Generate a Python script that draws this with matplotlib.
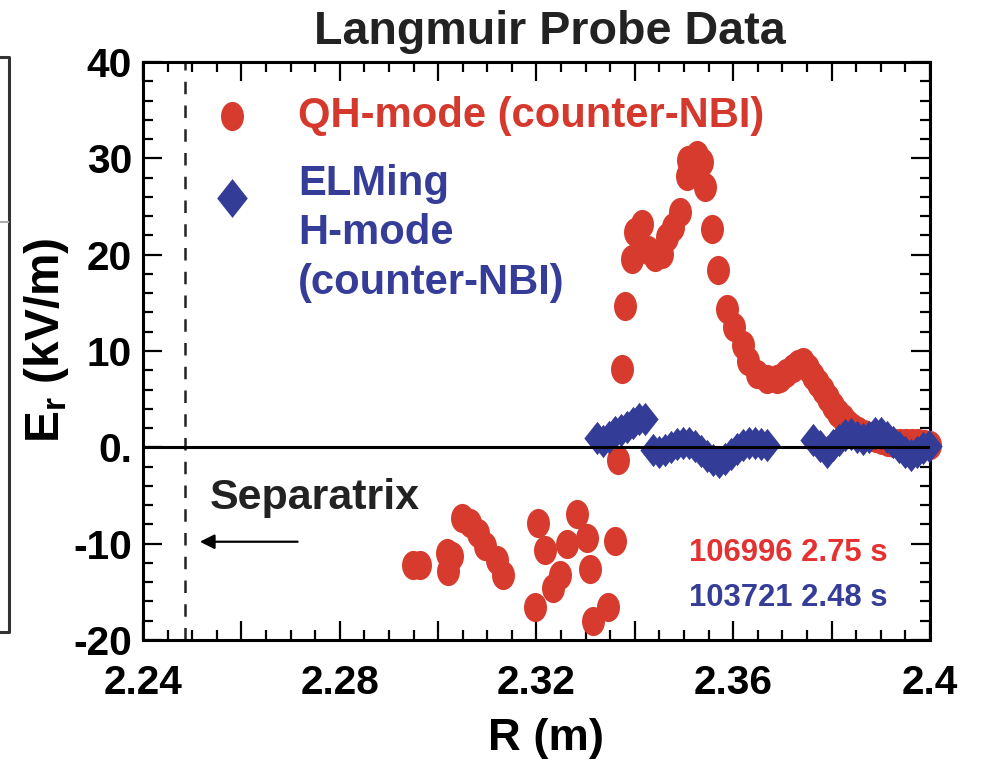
import matplotlib
matplotlib.use('Agg')
import matplotlib.pyplot as plt
from matplotlib import font_manager
from matplotlib.lines import Line2D
from matplotlib.markers import MarkerStyle
from matplotlib.path import Path
import numpy as np

# ── data ────────────────────────────────────────────────────────────────────
qh_r = [2.2949, 2.2963, 2.3018, 2.3028, 2.3020, 2.3049, 2.3065, 2.3081, 2.3095,
        2.3120, 2.3132, 2.3197, 2.3203, 2.3217, 2.3234, 2.3248, 2.3262, 2.3282,
        2.3303, 2.3309, 2.3315, 2.3345, 2.3360,
        2.3366, 2.3373, 2.3380, 2.3394, 2.3400, 2.3414, 2.3427, 2.3441, 2.3455,
        2.3465, 2.3478, 2.3492, 2.3505, 2.3509, 2.3526, 2.3536, 2.3543, 2.3556,
        2.3570, 2.3587, 2.3602, 2.3620, 2.3631, 2.3648, 2.3668, 2.3688,
        2.3695, 2.3707, 2.3721, 2.3732, 2.3742, 2.3752, 2.3762, 2.3772, 2.3782,
        2.3792, 2.3803, 2.3813, 2.3823, 2.3833, 2.3843, 2.3854, 2.3866, 2.3878,
        2.3890, 2.3902, 2.3915, 2.3927, 2.3939, 2.3951, 2.3963, 2.3976, 2.3988,
        2.4000]
qh_er = [-12.2, -12.2, -11.0, -11.3, -12.8, -7.3, -7.9, -8.9, -10.2,
         -11.7, -13.3, -16.6, -7.9, -10.7, -14.6, -13.3, -10.0, -6.9,
         -9.4, -12.6, -18.0, -16.6, -9.7,
         -1.35, 8.1, 14.7, 19.6, 22.4, 23.2, 20.5, 19.8, 20.1,
         21.8, 22.9, 24.4, 28.2, 29.8, 30.3, 29.6, 27.0, 22.7,
         18.4, 14.4, 12.5, 10.6, 9.0, 7.6, 7.1, 7.1,
         7.2, 7.7, 8.2, 8.7, 8.9, 8.2, 7.4, 6.7, 5.9,
         5.1, 4.3, 3.6, 3.0, 2.4, 2.0, 1.7, 1.4, 1.2,
         1.0, 0.8, 0.6, 0.5, 0.4, 0.5, 0.4, 0.4, 0.3,
         0.2]

elm_r = [2.3323, 2.3335, 2.3347, 2.3360, 2.3372, 2.3384, 2.3396, 2.3408, 2.3421,
         2.3437, 2.3449, 2.3461, 2.3473, 2.3486, 2.3498, 2.3510, 2.3522, 2.3534,
         2.3547, 2.3559, 2.3571, 2.3583, 2.3595, 2.3608, 2.3620, 2.3632, 2.3644,
         2.3656, 2.3669,
         2.3762, 2.3776, 2.3791, 2.3803, 2.3815, 2.3827, 2.3839, 2.3852, 2.3864,
         2.3876, 2.3888, 2.3900, 2.3913, 2.3925, 2.3937, 2.3949, 2.3961, 2.3974,
         2.3986, 2.3998]
elm_er = [1.0, 0.7, 1.1, 1.55, 1.75, 2.1, 2.5, 2.9, 2.9,
          -0.3, -0.5, -0.3, 0.0, 0.3, 0.4, 0.4, 0.1, -0.4,
          -0.9, -1.35, -1.5, -1.25, -0.7, -0.2, 0.2, 0.4, 0.4,
          0.3, 0.2,
          0.8, 0.1, -0.5, 0.2, 0.8, 1.25, 1.35, 1.1, 0.9,
          1.1, 1.45, 1.45, 1.1, 0.6, 0.0, -0.5, -0.8, -0.5,
          -0.1, 0.1]

x_ticks = [2.24, 2.26, 2.28, 2.30, 2.32, 2.34, 2.36, 2.38, 2.40]
x_labels = ['2.24', '', '2.28', '', '2.32', '', '2.36', '', '2.4']
y_ticks = [40, 30, 20, 10, 0, -10, -20]
y_labels = ['40', '30', '20', '10', '0.', '-10', '-20']
separatrix_r = 2.2485

# ── style ───────────────────────────────────────────────────────────────────
RED = '#d63b2d'
RED_TXT = '#d5392d'
RED_ANN = '#e53131'
BLUE = '#333c97'
BLUE_TXT = '#353d98'

try:
    font_manager.findfont('Liberation Sans Narrow', fallback_to_default=False)
    FONT, K = 'Liberation Sans Narrow', 1.0
except ValueError:
    FONT, K = 'Liberation Sans', 0.86

plt.rcParams['font.family'] = [FONT, 'DejaVu Sans']
plt.rcParams['font.weight'] = 'bold'
plt.rcParams['mathtext.fontset'] = 'custom'
plt.rcParams['mathtext.bf'] = FONT + ':bold'
plt.rcParams['mathtext.rm'] = FONT + ':bold'

# picture is stretched vertically, so circles are ellipses and diamonds tall
STRETCH = 1.27
circ = Path.unit_circle()
ellipse = MarkerStyle(Path(circ.vertices * [1, STRETCH], circ.codes))
diamond = MarkerStyle(Path([(0, -STRETCH), (1, 0), (0, STRETCH), (-1, 0), (0, -STRETCH)],
                           [Path.MOVETO, Path.LINETO, Path.LINETO, Path.LINETO, Path.CLOSEPOLY]))

fig = plt.figure(figsize=(9.9, 7.72), dpi=100)
fig.patch.set_facecolor('white')
ax = fig.add_axes([0.1444, 0.171, 0.795, 0.7487])

ax.plot(qh_r, qh_er, ls='none', marker=ellipse, ms=21, color=RED, mew=0,
        clip_on=False, zorder=3)
ax.plot(elm_r, elm_er, ls='none', marker=diamond, ms=24, color=BLUE, mew=0,
        clip_on=False, zorder=4)

ax.axhline(0, color='black', lw=2.2, zorder=5)
ax.axvline(separatrix_r, color='#222222', lw=1.8, ls=(0, (5, 4.5)), zorder=1)

ax.set_xlim(2.24, 2.40)
ax.set_ylim(-20, 40)
ax.set_xticks(x_ticks)
ax.set_xticklabels(x_labels)
ax.set_xticks(np.arange(2.24, 2.4001, 0.005), minor=True)
ax.set_yticks(y_ticks)
ax.set_yticklabels(y_labels)
ax.set_yticks(np.arange(-20, 40.01, 2), minor=True)

ax.tick_params(which='both', direction='in', top=True, right=True, width=1.6)
ax.tick_params(which='major', length=14, labelsize=34 * K)
ax.tick_params(axis='x', which='major', pad=17)
ax.tick_params(axis='y', which='major', pad=8)
ax.tick_params(which='minor', length=7)
for s in ax.spines.values():
    s.set_linewidth(2.2)

# legend drawn by hand
ax.plot([2.2581], [34.4], ls='none', marker=ellipse, ms=21, color=RED, mew=0)
ax.plot([2.2581], [25.9], ls='none', marker=diamond, ms=28, color=BLUE, mew=0)
ax.text(2.2715, 34.4, 'QH-mode (counter-NBI)', color=RED_TXT, fontsize=35 * K,
        ha='left', va='center')
ax.text(2.2715, 22.2, 'ELMing\nH-mode\n(counter-NBI)', color=BLUE_TXT,
        fontsize=35 * K, ha='left', va='center', linespacing=1.3)

ax.text(2.2536, -5.3, 'Separatrix', color='#222222', fontsize=36 * K,
        ha='left', va='center')
ax.annotate('', xy=(2.2510, -9.8), xytext=(2.2720, -9.8),
            arrowprops=dict(arrowstyle='-|>', color='black', lw=1.6,
                            mutation_scale=22))

ax.text(2.3913, -11.0, '106996 2.75 s', color=RED_ANN, fontsize=26 * K,
        ha='right', va='center')
ax.text(2.3913, -15.6, '103721 2.48 s', color=BLUE_TXT, fontsize=26 * K,
        ha='right', va='center')

fig.text(0.555, 0.958, 'Langmuir Probe Data', fontsize=39 * K, color='#222222',
         ha='center', va='center')
fig.text(0.552, 0.044, 'R (m)', fontsize=38 * K, ha='center', va='center')
fig.text(0.047, 0.5596, r'$\mathbf{E}_\mathbf{r}$ (kV/m)', fontsize=40 * K,
         rotation=90, ha='center', va='center')

# edge of the neighbouring panel, cut off at the left border
fig.add_artist(Line2D([0, 0.009, 0.009, 0], [1 - 57 / 772, 1 - 57 / 772,
                                             1 - 632 / 772, 1 - 632 / 772],
                      transform=fig.transFigure, color='#333333', lw=2.2))
fig.add_artist(Line2D([0, 0.008], [1 - 222 / 772] * 2, transform=fig.transFigure,
                      color='#aaaaaa', lw=1.5))

fig.savefig('out.png', dpi=100, facecolor='white')
